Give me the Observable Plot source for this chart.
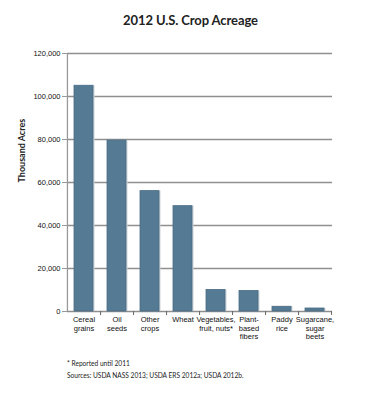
<!DOCTYPE html>
<html>
<head>
<meta charset="utf-8">
<script src="https://cdn.jsdelivr.net/npm/d3@7"></script>
<script src="https://cdn.jsdelivr.net/npm/@observablehq/plot@0.6"></script>
<style>
  body { margin: 0; background: #fff; width: 379px; }
  #title { height: 36px; font-family: Lato, "Open Sans", sans-serif; font-weight: bold; font-size: 13px; letter-spacing: -0.1px; color: #222; text-align: center; line-height: 40px; padding-left: 2px; }
  #notes { font-family: Lato, "Open Sans", sans-serif; font-size: 6.6px; color: #222; margin-left: 67px; margin-top: 9px; line-height: 12px; }
</style>
</head>
<body>
<div id="title">2012 U.S. Crop Acreage</div>
<div id="chart"></div>
<div id="notes">
  <div>* Reported until 2011</div>
  <div>Sources: USDA NASS 2013; USDA ERS 2012a; USDA 2012b.</div>
</div>
<script>
const categories = ["Cereal\ngrains", "Oil\nseeds", "Other\ncrops", "Wheat", "Vegetables,\nfruit, nuts*", "Plant-\nbased\nfibers", "Paddy\nrice", "Sugarcane,\nsugar\nbeets"];
const acres = [105000, 79500, 56000, 49000, 10000, 9500, 2200, 1400];
const yTicks = [0, 20000, 40000, 60000, 80000, 100000, 120000];

const data = categories.map((c, i) => ({crop: c, value: acres[i]}));
const width = 379, marginLeft = 67, marginRight = 47;
const step = (width - marginLeft - marginRight) / categories.length;
const font = "'Liberation Sans', Arial, sans-serif";

const chart = Plot.plot({
  width,
  height: 312,
  marginTop: 17,
  marginBottom: 37,
  marginLeft,
  marginRight,
  style: {fontFamily: font, fontSize: "7.5px", color: "#111", background: "#fff"},
  x: {domain: categories, paddingInner: 0.42, paddingOuter: 0.21, label: null},
  y: {domain: [0, 120000], label: null},
  marks: [
    Plot.ruleY(yTicks, {stroke: "#8f8f8f", strokeWidth: 1.3}),
    Plot.barY(data, {x: "crop", y: "value", fill: "#cfd6dc", dx: 1.5}),
    Plot.barY(data, {x: "crop", y: "value", fill: "#557a94", stroke: "#4a6d86", strokeWidth: 0.8}),
    Plot.ruleX([0], {x: () => categories[0], dx: -step / 2, y1: 0, y2: 120000, stroke: "#9a9a9a", strokeWidth: 1.3}),
    Plot.axisY({ticks: yTicks, tickSize: 5, tickPadding: 2, tickFormat: d3.format(","), stroke: "#9a9a9a", fill: "#111", label: null}),
    Plot.axisX({tickSize: 4, dx: step / 2, text: null, stroke: "#666", label: null}),
    Plot.axisX({tickSize: 0, tickPadding: 5, fill: "#111", label: null, lineHeight: 1.1}),
    Plot.text(["Thousand Acres"], {frameAnchor: "left", rotate: -90, dx: -45, fontWeight: "bold", fontSize: 9, fontFamily: "Lato, 'Open Sans', sans-serif", fill: "#222"})
  ]
});
document.getElementById("chart").appendChild(chart);
</script>
</body>
</html>
